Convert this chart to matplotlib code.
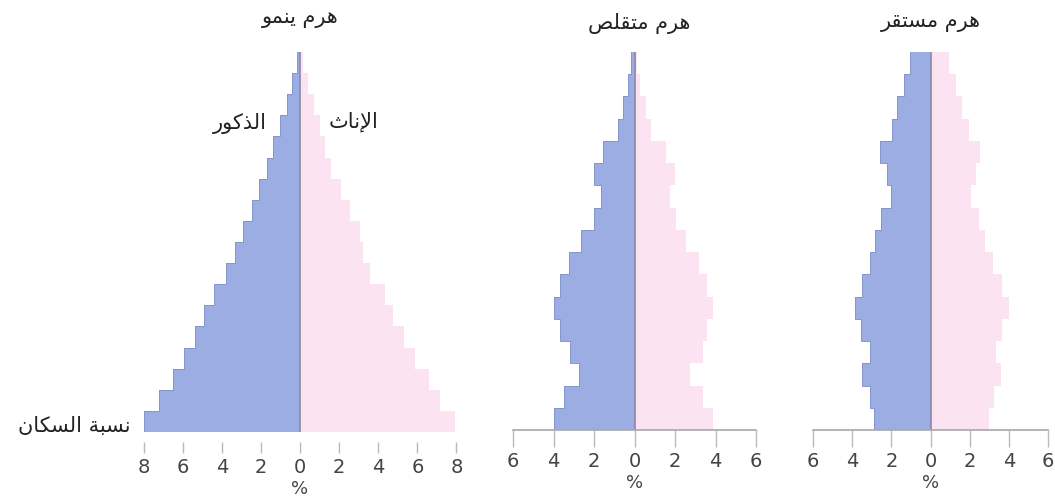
import matplotlib
matplotlib.use("Agg")
import matplotlib.pyplot as plt
from matplotlib import font_manager
import numpy as np

# % of population per age group, listed from the youngest (bottom) to the oldest (top)
grow_male = [8.0, 7.2, 6.5, 5.95, 5.35, 4.9, 4.4, 3.8, 3.3, 2.9, 2.46, 2.1, 1.7, 1.36, 1.02, 0.68, 0.43, 0.17]
grow_female = [7.9, 7.15, 6.6, 5.9, 5.3, 4.75, 4.35, 3.6, 3.2, 3.06, 2.55, 2.1, 1.6, 1.3, 1.0, 0.7, 0.4, 0.15]

shrink_male = [3.96, 3.47, 2.72, 3.2, 3.7, 4.0, 3.7, 3.25, 2.64, 1.98, 1.65, 1.98, 1.57, 0.83, 0.58, 0.33, 0.16]
shrink_female = [3.88, 3.38, 2.72, 3.38, 3.6, 3.88, 3.6, 3.2, 2.56, 2.06, 1.73, 1.98, 1.57, 0.83, 0.58, 0.25, 0.1]

stable_male = [2.87, 3.08, 3.5, 3.08, 3.53, 3.87, 3.5, 3.08, 2.83, 2.53, 2.03, 2.23, 2.57, 1.95, 1.7, 1.37, 1.03]
stable_female = [3.0, 3.25, 3.58, 3.33, 3.67, 4.0, 3.67, 3.17, 2.8, 2.47, 2.05, 2.3, 2.55, 1.97, 1.63, 1.3, 0.97]

titles = ["هرم ينمو", "هرم متقلص", "هرم مستقر"]
male_label = "الذكور"
female_label = "الإناث"
ylabel_text = "نسبة السكان"
grow_ticks = [-8, -6, -4, -2, 0, 2, 4, 6, 8]
other_ticks = [-6, -4, -2, 0, 2, 4, 6]

# --- minimal Arabic shaping (matplotlib does no text shaping / bidi) ---
FORMS = {  # isolated, final, initial, medial
    'ا': (0xFE8D, 0xFE8E, None, None),
    'إ': (0xFE87, 0xFE88, None, None),
    'ب': (0xFE8F, 0xFE90, 0xFE91, 0xFE92),
    'ة': (0xFE93, 0xFE94, None, None),
    'ت': (0xFE95, 0xFE96, 0xFE97, 0xFE98),
    'ث': (0xFE99, 0xFE9A, 0xFE9B, 0xFE9C),
    'ذ': (0xFEAB, 0xFEAC, None, None),
    'ر': (0xFEAD, 0xFEAE, None, None),
    'س': (0xFEB1, 0xFEB2, 0xFEB3, 0xFEB4),
    'ص': (0xFEB9, 0xFEBA, 0xFEBB, 0xFEBC),
    'ق': (0xFED5, 0xFED6, 0xFED7, 0xFED8),
    'ك': (0xFED9, 0xFEDA, 0xFEDB, 0xFEDC),
    'ل': (0xFEDD, 0xFEDE, 0xFEDF, 0xFEE0),
    'م': (0xFEE1, 0xFEE2, 0xFEE3, 0xFEE4),
    'ن': (0xFEE5, 0xFEE6, 0xFEE7, 0xFEE8),
    'ه': (0xFEE9, 0xFEEA, 0xFEEB, 0xFEEC),
    'و': (0xFEED, 0xFEEE, None, None),
    'ي': (0xFEF1, 0xFEF2, 0xFEF3, 0xFEF4),
    'لا': (0xFEFB, 0xFEFC, None, None),
    'لإ': (0xFEF9, 0xFEFA, None, None),
}


def shape(text):
    merged = []
    i = 0
    while i < len(text):
        if text[i] == 'ل' and i + 1 < len(text) and text[i + 1] in 'اإ':
            merged.append(text[i:i + 2])
            i += 2
        else:
            merged.append(text[i])
            i += 1

    def dual(c):
        return c in FORMS and FORMS[c][2] is not None

    out = []
    for k, c in enumerate(merged):
        if c not in FORMS:
            out.append(c)
            continue
        prev = merged[k - 1] if k > 0 else None
        nxt = merged[k + 1] if k + 1 < len(merged) else None
        jp = prev is not None and dual(prev)
        jn = dual(c) and nxt is not None and nxt in FORMS
        iso, fin, ini, med = FORMS[c]
        if jp and jn:
            code = med
        elif jp:
            code = fin
        elif jn:
            code = ini
        else:
            code = iso
        out.append(chr(code))
    return ''.join(reversed(out))


names = {f.name for f in font_manager.fontManager.ttflist}
num_font = 'Liberation Sans Narrow' if 'Liberation Sans Narrow' in names else 'DejaVu Sans'
ar_font = 'DejaVu Sans'

BLUE = '#9bade3'
PINK = '#fbe3f1'
W, H = 1055, 499

fig = plt.figure(figsize=(W / 100, H / 100), dpi=100)


def add_pyramid(rect, male, female, lim, ticks, axis_line):
    ax = fig.add_axes(rect)
    n = len(male)
    y = np.arange(n)
    ax.barh(y, -np.array(male), height=1, align='edge', color=BLUE, linewidth=0)
    ax.barh(y, female, height=1, align='edge', color=PINK, linewidth=0)
    ax.stairs(-np.array(male), np.arange(n + 1), orientation='horizontal',
              baseline=None, color='#8596cc', lw=0.7)
    ax.axvline(0, color='#8a8aa6', lw=1.2)
    ax.set_xlim(-lim, lim)
    ax.set_ylim(0, n)
    ax.set_yticks([])
    for s in ['top', 'left', 'right']:
        ax.spines[s].set_visible(False)
    if axis_line:
        ax.spines['bottom'].set_color('#a8a8a8')
        ax.spines['bottom'].set_linewidth(1.2)
        ax.tick_params(axis='x', length=12, width=1, color='#bbbbbb', pad=4)
    else:
        ax.spines['bottom'].set_visible(False)
        ax.spines['bottom'].set_position(('outward', 7))
        ax.tick_params(axis='x', length=8, width=1, color='#bbbbbb', pad=4)
    ax.set_xticks(ticks)
    ax.set_xticklabels([str(abs(t)) for t in ticks], family=num_font,
                       fontsize=14, color='#444444')
    ax.set_xlabel('%', family=num_font, fontsize=13, color='#444444', labelpad=2)
    return ax


ax1 = add_pyramid([139.6 / W, 67 / H, 320.8 / W, 380 / H], grow_male, grow_female,
                  8.2, grow_ticks, False)
ax2 = add_pyramid([513 / W, 69 / H, 243 / W, 378 / H], shrink_male, shrink_female,
                  6, other_ticks, True)
ax3 = add_pyramid([813 / W, 69 / H, 235 / W, 378 / H], stable_male, stable_female,
                  6, other_ticks, True)

title_pos = [(300, 18), (639, 23), (931, 22)]
for t, (x, y) in zip(titles, title_pos):
    fig.text(x / W, 1 - y / H, shape(t), family=ar_font, fontsize=15,
             ha='center', va='center', color='#222222')

fig.text(240 / W, 1 - 124 / H, shape(male_label), family=ar_font, fontsize=15,
         ha='center', va='center', color='#222222')
fig.text(354 / W, 1 - 122 / H, shape(female_label), family=ar_font, fontsize=15,
         ha='center', va='center', color='#222222')
fig.text(74 / W, 1 - 426 / H, shape(ylabel_text), family=ar_font, fontsize=15,
         ha='center', va='center', color='#222222')

fig.savefig('out.png', dpi=100)
